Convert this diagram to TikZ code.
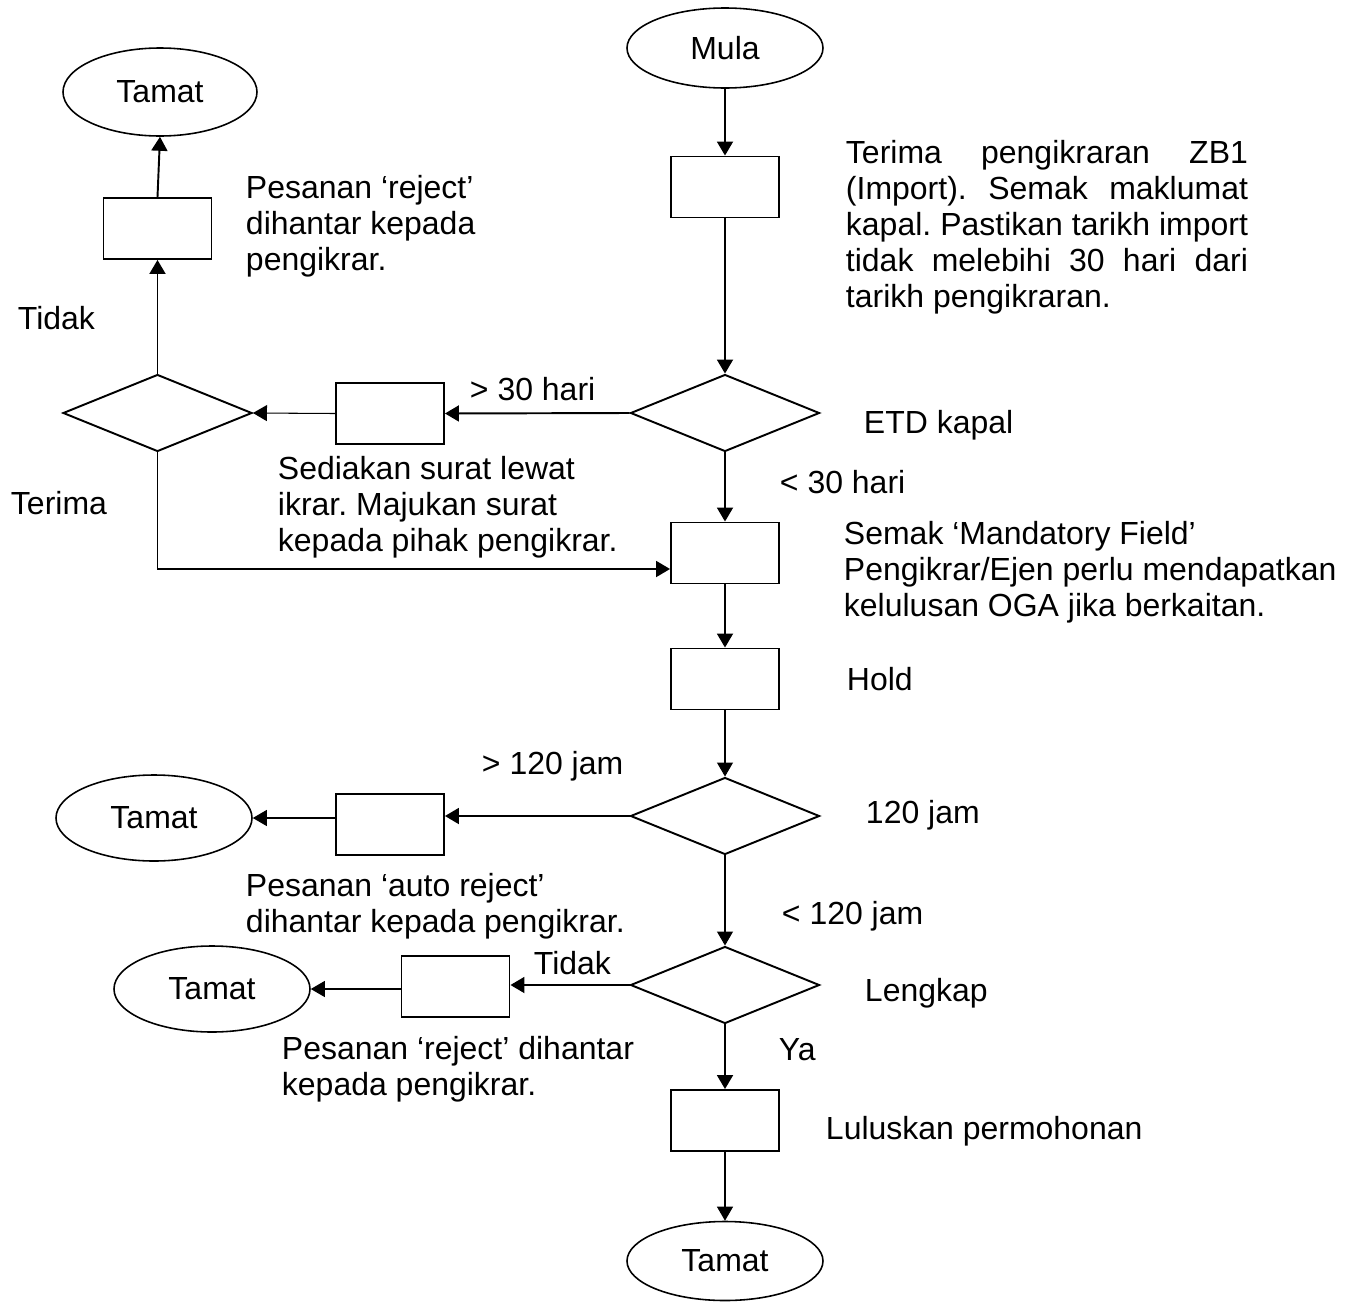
\documentclass[tikz,border=0pt]{standalone}
\usepackage{fontspec}
\setmainfont{Liberation Sans}
\usetikzlibrary{shapes.geometric, arrows.meta}
\frenchspacing

% one full-width line of the justified note
\newcommand{\barispenuh}[1]{\makebox[8.04cm][s]{#1}}

\begin{document}
\begin{tikzpicture}[
    line width=1.1pt,
    >={Triangle[length=2.8mm, width=3.2mm]},
    every node/.style={font=\fontsize{18.2}{20.5}\selectfont},
    terminal/.style={draw, ellipse, line width=0.9pt, minimum width=3.92cm, minimum height=1.72cm, inner sep=0pt},
    process/.style={draw, rectangle, minimum width=2.16cm, minimum height=1.22cm, inner sep=0pt},
    decision/.style={draw, diamond, minimum width=3.78cm, minimum height=1.54cm, inner sep=0pt},
    note/.style={anchor=north west, inner sep=0pt, align=left},
    thinline/.style={line width=0.6pt}
]
    \useasboundingbox (0,0) rectangle (26.98,-26.12);

    % Main column
    \node[terminal, minimum height=1.6cm] (mula) at (14.5,-0.96) {Mula};
    \node[process] (terima) at (14.5,-3.74) {};
    \node[decision] (etd) at (14.5,-8.26) {};
    \node[process] (semak) at (14.5,-11.06) {};
    \node[process] (hold) at (14.5,-13.58) {};
    \node[decision] (jam) at (14.5,-16.32) {};
    \node[decision] (lengkap) at (14.5,-19.7) {};
    \node[process] (lulus) at (14.5,-22.41) {};
    \node[terminal, minimum height=1.58cm] (tamatA) at (14.5,-25.22) {Tamat};

    % Late declaration branch (top left)
    \node[process] (surat) at (7.8,-8.27) {};
    \node[decision] (ulang) at (3.15,-8.26) {};
    \node[process] (tolak) at (3.15,-4.57) {};
    \node[terminal, minimum width=3.88cm, minimum height=1.76cm] (tamatB) at (3.2,-1.84) {Tamat};

    % Reject branches (bottom left)
    \node[process] (auto) at (7.8,-16.49) {};
    \node[terminal] (tamatC) at (3.08,-16.36) {Tamat};
    \node[process] (tolakB) at (9.11,-19.73) {};
    \node[terminal] (tamatD) at (4.24,-19.78) {Tamat};

    % Main flow
    \draw[->] (mula) -- (terima);
    \draw[->] (terima) -- (etd);
    \draw[->] (etd) -- (semak);
    \draw[->] (semak) -- (hold);
    \draw[->, thinline] (hold) -- (jam);
    \draw[->, thinline] (jam) -- (lengkap);
    \draw[->] (lengkap) -- (lulus);
    \draw[->, thinline] (lulus) -- (tamatA);

    % More than 30 days
    \draw[->] (etd.west) -- (surat.east);
    \draw[->, thinline] (surat.west) -- (ulang.east);
    \draw[->] (ulang.north) -- (tolak.south);
    \draw[->] (tolak.north) -- (tamatB.south);
    \draw[->] (ulang.south) |- ([yshift=-0.32cm]semak.west);

    % More than 120 hours, and not complete
    \draw[->] (jam.west) -- (jam.west -| auto.east);
    \draw[->, thinline] (auto.west |- tamatC.east) -- (tamatC.east);
    \draw[->] (lengkap.west) -- (lengkap.west -| tolakB.east);
    \draw[->, thinline] (tolakB.west |- tamatD.east) -- (tamatD.east);

    % Notes beside the steps
    \node[note] (nTerima) at (16.9,-2.79) {\barispenuh{Terima pengikraran ZB1}\\
        \barispenuh{(Import). Semak maklumat}\\
        \barispenuh{kapal. Pastikan tarikh import}\\
        \barispenuh{tidak melebihi 30 hari dari}\\
        tarikh pengikraran.};
    \node[note] (nEtd) at (17.26,-8.19) {ETD kapal};
    \node[note] (nKurang) at (15.58,-9.39) {< 30 hari};
    \node[note] (nSemak) at (16.86,-10.41) {Semak ‘Mandatory Field’\\
        Pengikrar/Ejen perlu mendapatkan\\kelulusan OGA jika berkaitan.};
    \node[note] (nHold) at (16.92,-13.33) {Hold};
    \node[note] (nJam) at (17.3,-15.99) {120 jam};
    \node[note] (nKurangJam) at (15.62,-18.01) {< 120 jam};
    \node[note] (nLengkap) at (17.28,-19.55) {Lengkap};
    \node[note] (nYa) at (15.56,-20.75) {Ya};
    \node[note] (nLulus) at (16.5,-22.31) {Luluskan permohonan};

    \node[note] (nLebih) at (9.38,-7.53) {> 30 hari};
    \node[note] (nSurat) at (5.54,-9.11) {Sediakan surat lewat\\ikrar. Majukan surat\\kepada pihak pengikrar.};
    \node[note] (nTolak) at (4.9,-3.49) {Pesanan ‘reject’\\dihantar kepada\\pengikrar.};
    \node[note] (nTidak) at (0.34,-6.11) {Tidak};
    \node[note] (nTerimaB) at (0.2,-9.81) {Terima};

    \node[note] (nLebihJam) at (9.62,-15.01) {> 120 jam};
    \node[note] (nAuto) at (4.9,-17.45) {Pesanan ‘auto reject’\\dihantar kepada pengikrar.};
    \node[note] (nTidakB) at (10.66,-19.01) {Tidak};
    \node[note] (nTolakB) at (5.62,-20.71) {Pesanan ‘reject’ dihantar\\kepada pengikrar.};
\end{tikzpicture}
\end{document}
